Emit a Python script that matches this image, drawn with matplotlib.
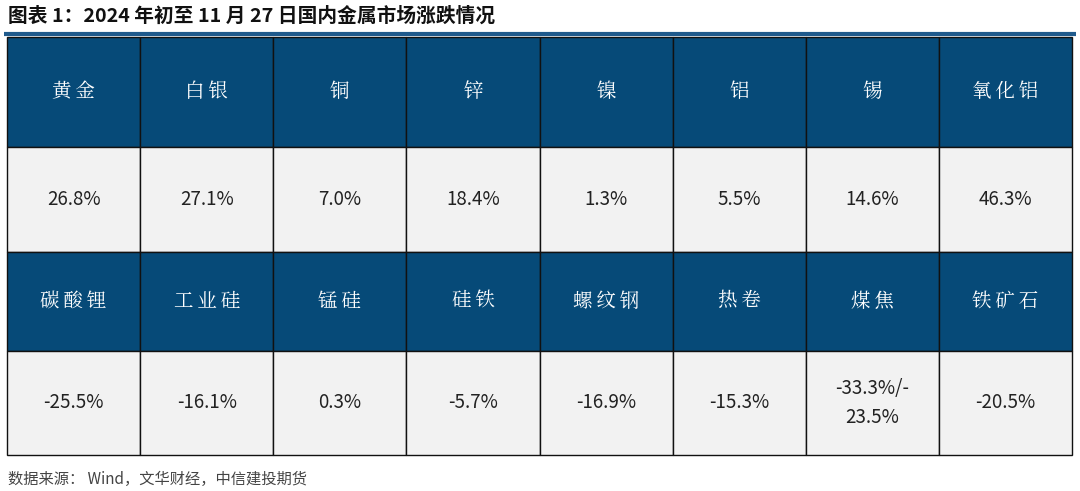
import matplotlib
matplotlib.use("Agg")
import matplotlib.pyplot as plt
from matplotlib.patches import Rectangle

plt.rcParams['font.family'] = ['Noto Sans CJK SC', 'DejaVu Sans']

title = "图表 1：2024 年初至 11 月 27 日国内金属市场涨跌情况"
source = "数据来源： Wind，文华财经，中信建投期货"
names_row1 = ["黄金", "白银", "铜", "锌", "镍", "铝", "锡", "氧化铝"]
values_row1 = ["26.8%", "27.1%", "7.0%", "18.4%", "1.3%", "5.5%", "14.6%", "46.3%"]
names_row2 = ["碳酸锂", "工业硅", "锰硅", "硅铁", "螺纹钢", "热卷", "煤焦", "铁矿石"]
values_row2 = ["-25.5%", "-16.1%", "0.3%", "-5.7%", "-16.9%", "-15.3%", "-33.3%/-\n23.5%", "-20.5%"]

W, H = 1080, 491
fig = plt.figure(figsize=(W/100, H/100), dpi=100)
ax = fig.add_axes([0, 0, 1, 1])
ax.set_xlim(0, W); ax.set_ylim(H, 0); ax.axis('off')

hdr = '#064a78'; light = '#f2f2f2'
x0, x1 = 7, 1072
rows = [(37, 147, names_row1, hdr, 'white'),
        (147, 252, values_row1, light, '#222222'),
        (252, 351, names_row2, hdr, 'white'),
        (351, 455, values_row2, light, '#222222')]
ncol = len(names_row1)
cw = (x1 - x0) / ncol
for top, bot, labels, bg, fc in rows:
    for i, lab in enumerate(labels):
        ax.add_patch(Rectangle((x0 + i*cw, top), cw, bot - top, facecolor=bg,
                               edgecolor='#111111', linewidth=1.0))
        if bg == hdr:
            ax.text(x0 + (i+0.5)*cw, (top+bot)/2, "\u2009".join(lab), ha='center', va='center',
                    color=fc, fontsize=14,
                    family=['Noto Serif CJK SC', 'Noto Sans CJK SC', 'DejaVu Sans'])
        else:
            ax.text(x0 + (i+0.5)*cw, (top+bot)/2, lab, ha='center', va='center',
                    color=fc, fontsize=13.5, linespacing=1.5,
                    family=['Noto Sans CJK SC', 'DejaVu Sans'])

ax.plot([4, 1076], [34, 34], color='#1f5a8c', linewidth=3, solid_capstyle='butt')
ax.text(8, 16, title, ha='left', va='center', fontsize=14.2, fontweight='bold', color='#111111')
ax.text(8, 479, source, ha='left', va='center', fontsize=11, style='italic', color='#444444')

fig.savefig('out.png', dpi=100)
